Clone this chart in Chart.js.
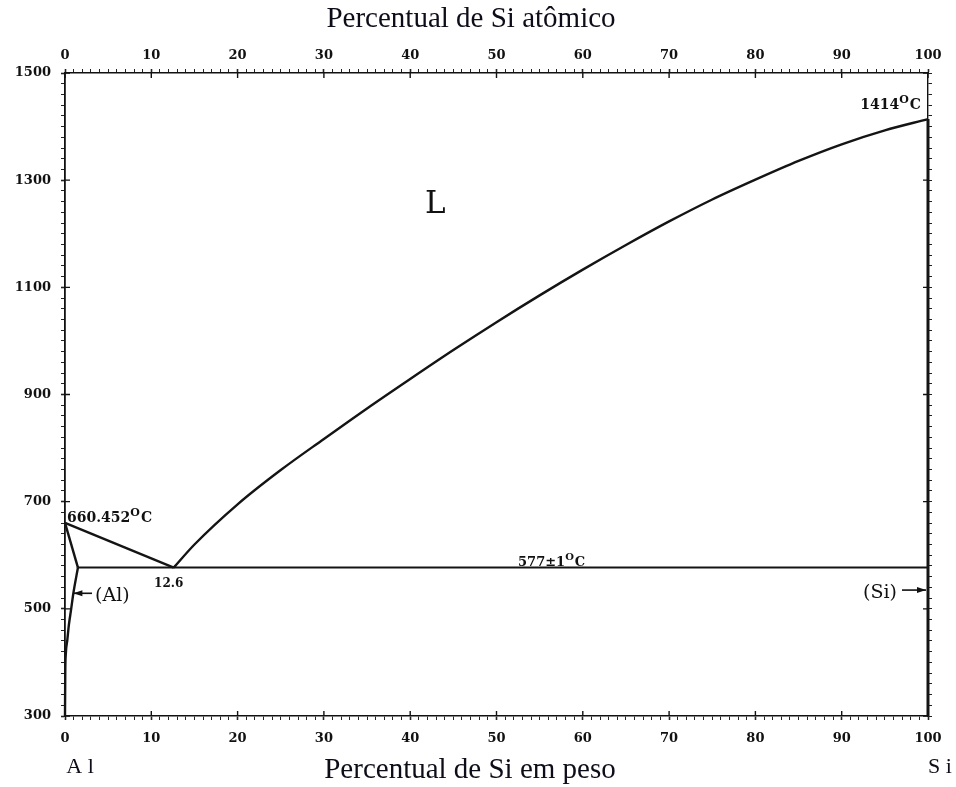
<!DOCTYPE html>
<html>
<head>
<meta charset="utf-8">
<script src="https://cdn.jsdelivr.net/npm/chart.js@4"></script>
<style>
  body { margin: 0; background: #fff; }
  canvas { display: block; }
</style>
</head>
<body>
<canvas id="diagram" width="956" height="787"></canvas>
<script>
// --- Phase boundaries (wt% Si, temperature in C) ---
const liquidusAlX = [0, 12.6];
const liquidusAlT = [660.452, 577];

const liquidusSiX = [12.6, 15, 20, 25, 30, 35, 40, 45, 50, 55, 60, 65, 70, 75, 80, 85, 90, 95, 100];
const liquidusSiT = [577, 620, 695, 759, 817, 874, 929, 983, 1035, 1085, 1133, 1179, 1223, 1264, 1301, 1336, 1367, 1393, 1414];

const solidusAlX = [0, 1.5];
const solidusAlT = [660.452, 577];

const solvusAlX = [1.5, 0.97, 0.7, 0.45, 0.27, 0.1, 0.03, 0];
const solvusAlT = [577, 529, 498, 470, 442, 417, 380, 300];

const eutecticX = [1.5, 100];
const eutecticT = [577, 577];

const siLineX = [100, 100];
const siLineT = [300, 1414];

// --- Axis ticks ---
const xTicks = [0, 10, 20, 30, 40, 50, 60, 70, 80, 90, 100];
const yTicks = [300, 500, 700, 900, 1100, 1300, 1500];

const toPoints = (xs, ys) => xs.map((x, i) => ({ x: x, y: ys[i] }));

function lineSet(xs, ys, width, extra) {
  return Object.assign({
    data: toPoints(xs, ys),
    showLine: true,
    borderColor: "#141414",
    borderWidth: width,
    pointRadius: 0,
    clip: 6
  }, extra || {});
}

const tickFont = { family: "DejaVu Serif", size: 13, weight: "bold" };

// degree label like 1414 with a raised O then C
function drawTemp(c, base, x, y, size, align) {
  const small = Math.round(size * 0.75);
  c.font = `bold ${size}px "DejaVu Serif"`;
  const w1 = c.measureText(base).width;
  c.font = `bold ${small}px "DejaVu Serif"`;
  const w2 = c.measureText("O").width;
  c.font = `bold ${size}px "DejaVu Serif"`;
  const w3 = c.measureText("C").width;
  const total = w1 + w2 + w3 + 1;
  const left = align === "right" ? x - total : x;
  c.textAlign = "left";
  c.textBaseline = "alphabetic";
  c.fillText(base, left, y);
  c.font = `bold ${small}px "DejaVu Serif"`;
  c.fillText("O", left + w1, y - size * 0.45);
  c.font = `bold ${size}px "DejaVu Serif"`;
  c.fillText("C", left + w1 + w2 + 1, y);
}

function arrow(c, x1, x2, y) {
  // shaft from x1 to head at x2
  const dir = x2 > x1 ? 1 : -1;
  c.beginPath();
  c.moveTo(x1, y);
  c.lineTo(x2, y);
  c.lineWidth = 1.6;
  c.stroke();
  c.beginPath();
  c.moveTo(x2, y);
  c.lineTo(x2 - dir * 9, y - 3);
  c.lineTo(x2 - dir * 9, y + 3);
  c.closePath();
  c.fill();
}

// --- Labels, titles and inward major ticks ---
const annotations = {
  id: "annotations",
  afterDraw(chart) {
    const c = chart.ctx;
    const sx = chart.scales.x;
    const sy = chart.scales.y;
    const area = chart.chartArea;
    c.save();
    c.fillStyle = "#111";
    c.strokeStyle = "#111";

    // inward major ticks
    c.lineWidth = 1.4;
    c.beginPath();
    xTicks.forEach(v => {
      const px = sx.getPixelForValue(v);
      c.moveTo(px, area.bottom); c.lineTo(px, area.bottom - 5);
      c.moveTo(px, area.top); c.lineTo(px, area.top + 5);
    });
    yTicks.forEach(v => {
      const py = sy.getPixelForValue(v);
      c.moveTo(area.left, py); c.lineTo(area.left + 5, py);
      c.moveTo(area.right, py); c.lineTo(area.right - 5, py);
    });
    c.stroke();

    // axis titles
    c.font = '29px "Liberation Serif"';
    c.textAlign = "center";
    c.textBaseline = "middle";
    c.fillStyle = "#0d0d1a";
    c.fillText("Percentual de Si atômico", 471, 19);
    c.fillText("Percentual de Si em peso", 470, 770);
    c.font = '22px "Liberation Serif"';
    c.fillText("A l", 80, 767);
    c.fillText("S i", 940, 767);

    c.fillStyle = "#111";
    // liquid region
    c.font = '31px "DejaVu Serif"';
    c.fillText("L", sx.getPixelForValue(42.9), sy.getPixelForValue(1253));

    // temperatures
    const pAl = { x: sx.getPixelForValue(liquidusAlX[0]), y: sy.getPixelForValue(liquidusAlT[0]) };
    drawTemp(c, "660.452", pAl.x + 2, pAl.y - 1, 14, "left");

    const pE = { x: sx.getPixelForValue(12.6), y: sy.getPixelForValue(577) };
    c.font = 'bold 12px "DejaVu Serif"';
    c.textAlign = "center";
    c.textBaseline = "alphabetic";
    c.fillText("12.6", pE.x - 5, pE.y + 19);

    drawTemp(c, "577±1", sx.getPixelForValue(52.5), pE.y - 2, 13, "left");

    const pSi = { x: sx.getPixelForValue(100), y: sy.getPixelForValue(1414) };
    drawTemp(c, "1414", pSi.x - 7, pSi.y - 10, 14, "right");

    // phase labels with arrows
    c.font = '19px "DejaVu Serif"';
    c.textBaseline = "middle";
    c.textAlign = "left";
    const yAl = sy.getPixelForValue(529);
    c.fillText("(Al)", 95, yAl + 3);
    arrow(c, 92, sx.getPixelForValue(0.97), yAl);

    const ySi = sy.getPixelForValue(535);
    c.textAlign = "right";
    c.fillText("(Si)", 897, ySi + 3);
    arrow(c, 902, sx.getPixelForValue(100) - 2, ySi);

    c.restore();
  }
};

const ctx = document.getElementById("diagram").getContext("2d");
new Chart(ctx, {
  type: "scatter",
  data: {
    datasets: [
      lineSet(liquidusSiX, liquidusSiT, 2.4, { cubicInterpolationMode: "monotone" }),
      lineSet(liquidusAlX, liquidusAlT, 2.4),
      lineSet(solidusAlX, solidusAlT, 2.4),
      lineSet(solvusAlX, solvusAlT, 2.4, { cubicInterpolationMode: "monotone" }),
      lineSet(eutecticX, eutecticT, 2),
      lineSet(siLineX, siLineT, 3)
    ]
  },
  options: {
    responsive: false,
    animation: false,
    layout: { padding: 0 },
    plugins: { legend: { display: false }, tooltip: { enabled: false } },
    scales: {
      x: {
        type: "linear", position: "bottom", min: 0, max: 100,
        ticks: {
          stepSize: 1, autoSkip: false, maxRotation: 0, padding: 11,
          color: "#111", font: tickFont,
          callback: v => xTicks.includes(v) ? String(v) : ""
        },
        grid: { drawOnChartArea: false, tickLength: 4, tickColor: "#222", tickWidth: c => c.tick && xTicks.includes(c.tick.value) ? 1.6 : 1 },
        border: { color: "#111", width: 1.6 },
        afterFit: s => { s.height = 71; }
      },
      x2: {
        type: "linear", position: "top", min: 0, max: 100,
        ticks: {
          stepSize: 1, autoSkip: false, maxRotation: 0, padding: 6,
          color: "#111", font: tickFont,
          callback: v => xTicks.includes(v) ? String(v) : ""
        },
        grid: { drawOnChartArea: false, tickLength: 4, tickColor: "#222", tickWidth: c => c.tick && xTicks.includes(c.tick.value) ? 1.6 : 1 },
        border: { color: "#111", width: 1.4 },
        afterFit: s => { s.height = 73; }
      },
      y: {
        type: "linear", position: "left", min: 300, max: 1500,
        ticks: {
          stepSize: 20, autoSkip: false, padding: 10,
          color: "#111", font: tickFont,
          callback: v => yTicks.includes(v) ? String(v) : ""
        },
        grid: { drawOnChartArea: false, tickLength: 4, tickColor: "#222", tickWidth: c => c.tick && yTicks.includes(c.tick.value) ? 1.6 : 1 },
        border: { color: "#111", width: 1.8 },
        afterFit: s => { s.width = 65; }
      },
      y2: {
        type: "linear", position: "right", min: 300, max: 1500,
        ticks: { stepSize: 20, autoSkip: false, callback: () => "" },
        grid: { drawOnChartArea: false, tickLength: 4, tickColor: "#222" },
        border: { color: "#111", width: 1.4 },
        afterFit: s => { s.width = 28; }
      }
    }
  },
  plugins: [annotations]
});
</script>
</body>
</html>
